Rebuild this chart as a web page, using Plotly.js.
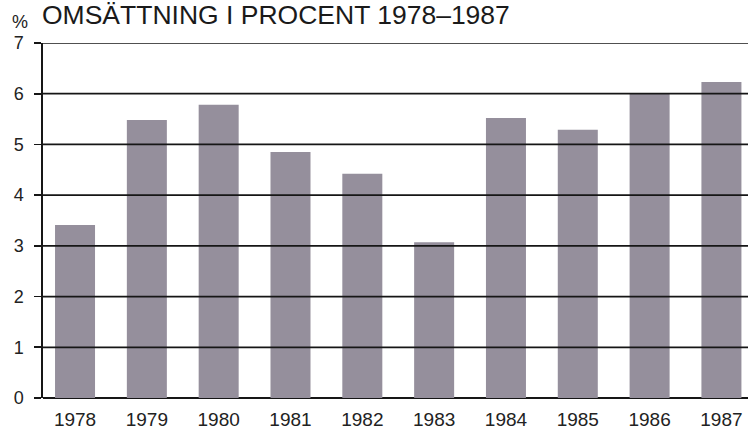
<!DOCTYPE html>
<html>
<head>
<meta charset="utf-8">
<script src="https://cdn.plot.ly/plotly-3.0.1.min.js"></script>
<style>html,body{margin:0;padding:0;background:#fff;}#chart{width:748px;height:431px;}</style>
</head>
<body>
<div id="chart"></div>
<script>
const years = ["1978","1979","1980","1981","1982","1983","1984","1985","1986","1987"];
const values = [3.41, 5.48, 5.78, 4.85, 4.42, 3.07, 5.52, 5.29, 6.0, 6.23];
const yTicks = [0, 1, 2, 3, 4, 5, 6, 7];
const titleText = "OMSÄTTNING I PROCENT 1978–1987";
const unitText = "%";

const font = "Liberation Sans, Arial, sans-serif";
const ink = "#161616";

const trace = {
  type: "bar",
  x: years,
  y: values,
  width: 0.557,
  marker: {color: "#958f9c", line: {width: 0}},
  hoverinfo: "skip"
};

const gridShapes = yTicks.filter(v => v > 0).map(v => ({
  type: "line", xref: "paper", yref: "y", x0: 0, x1: 1, y0: v, y1: v,
  line: {color: ink, width: 1.7}, layer: "above"
}));

const layout = {
  width: 748,
  height: 431,
  margin: {l: 43, r: 0, t: 43, b: 33, pad: 0},
  paper_bgcolor: "#ffffff",
  plot_bgcolor: "#ffffff",
  showlegend: false,
  font: {family: font, color: "#222", size: 18},
  xaxis: {
    type: "category",
    range: [-0.446, 9.37],
    showgrid: false,
    showline: false,
    ticks: "",
    tickfont: {family: font, size: 19, color: "#222"},
    ticklabelstandoff: 8,
    fixedrange: true
  },
  yaxis: {
    range: [0, 7],
    tickvals: yTicks,
    ticktext: yTicks.map(String),
    showgrid: false,
    zeroline: true,
    zerolinecolor: ink,
    zerolinewidth: 1.9,
    showline: true,
    linecolor: ink,
    linewidth: 1.7,
    ticks: "outside",
    ticklen: 7,
    tickwidth: 1.7,
    tickcolor: ink,
    tickfont: {family: font, size: 18, color: "#222"},
    ticklabelstandoff: 7,
    layer: "above traces",
    fixedrange: true
  },
  shapes: gridShapes,
  annotations: [
    {text: titleText, xref: "paper", yref: "paper", x: 0, y: 1, xanchor: "left", yanchor: "bottom",
     xshift: -3, yshift: 11, showarrow: false, font: {family: font, size: 26.5, color: "#1a1a1a"}},
    {text: unitText, xref: "paper", yref: "paper", x: 0, y: 1, xanchor: "left", yanchor: "bottom",
     xshift: -33, yshift: 9, showarrow: false, font: {family: font, size: 18, color: "#222"}}
  ]
};

Plotly.newPlot("chart", [trace], layout, {displayModeBar: false, staticPlot: true});
</script>
</body>
</html>
